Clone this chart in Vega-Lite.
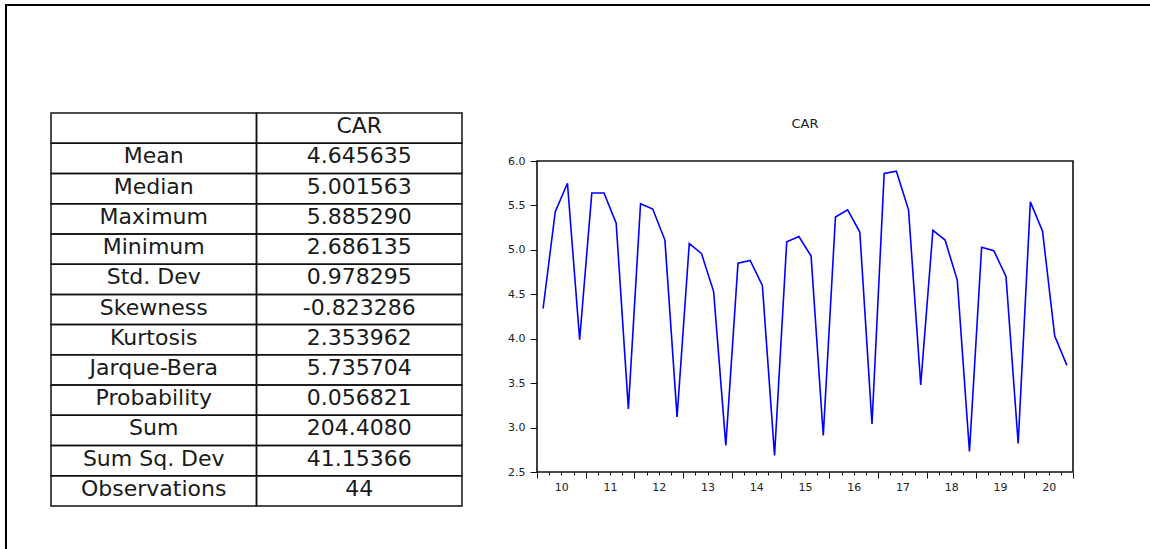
{
  "$schema": "https://vega.github.io/schema/vega-lite/v6.json",
  "background": "white",
  "padding": {"left": 5, "top": 4, "right": 0, "bottom": 0},
  "config": {"view": {"stroke": null}, "font": "DejaVu Sans"},
  "spacing": 0,
  "vconcat": [
    {
      "width": 1145, "height": 2,
      "view": {"fill": "black", "stroke": null},
      "data": {"values": []},
      "mark": "point"
    },
    {
      "spacing": 43,
      "hconcat": [
        {
          "width": 2, "height": 543,
          "view": {"fill": "black", "stroke": null},
          "data": {"values": []},
          "mark": "point"
        },
        {
          "spacing": 105,
          "vconcat": [
            {"width": 1, "height": 1, "view": {"stroke": null}, "data": {"values": []}, "mark": "point"},
            {
              "width": 411, "height": 393,
              "data": {"values": [
                {"row": 0, "stat": "", "value": "CAR"},
                {"row": 1, "stat": "Mean", "value": "4.645635"},
                {"row": 2, "stat": "Median", "value": "5.001563"},
                {"row": 3, "stat": "Maximum", "value": "5.885290"},
                {"row": 4, "stat": "Minimum", "value": "2.686135"},
                {"row": 5, "stat": "Std. Dev", "value": "0.978295"},
                {"row": 6, "stat": "Skewness", "value": "-0.823286"},
                {"row": 7, "stat": "Kurtosis", "value": "2.353962"},
                {"row": 8, "stat": "Jarque-Bera", "value": "5.735704"},
                {"row": 9, "stat": "Probability", "value": "0.056821"},
                {"row": 10, "stat": "Sum", "value": "204.4080"},
                {"row": 11, "stat": "Sum Sq. Dev", "value": "41.15366"},
                {"row": 12, "stat": "Observations", "value": "44"}
              ]},
              "encoding": {
                "y": {"field": "row", "type": "ordinal", "scale": {"paddingInner": 0, "paddingOuter": 0}, "axis": null}
              },
              "layer": [
                {
                  "mark": {"type": "rect", "fillOpacity": 0, "stroke": "#111", "strokeWidth": 1.5},
                  "encoding": {"x": {"datum": "c1", "type": "nominal", "scale": {"domain": ["c1", "c2"], "paddingInner": 0, "paddingOuter": 0}, "axis": null}}
                },
                {
                  "mark": {"type": "rect", "fillOpacity": 0, "stroke": "#111", "strokeWidth": 1.5},
                  "encoding": {"x": {"datum": "c2", "type": "nominal", "axis": null}}
                },
                {
                  "mark": {"type": "text", "font": "DejaVu Sans", "fontSize": 22, "color": "#1a1a1a", "baseline": "alphabetic", "dy": 5},
                  "encoding": {"x": {"datum": "c1", "type": "nominal", "axis": null}, "text": {"field": "stat"}}
                },
                {
                  "mark": {"type": "text", "font": "DejaVu Sans", "fontSize": 22, "color": "#1a1a1a", "baseline": "alphabetic", "dy": 5},
                  "encoding": {"x": {"datum": "c2", "type": "nominal", "axis": null}, "text": {"field": "value"}}
                }
              ]
            }
          ]
        },
        {
          "spacing": 110,
          "vconcat": [
            {"width": 1, "height": 1, "view": {"stroke": null}, "data": {"values": []}, "mark": "point"},
            {
              "width": 536, "height": 311,
              "view": {"stroke": "#111", "strokeWidth": 1.6},
              "title": {"text": "CAR", "font": "DejaVu Sans", "fontSize": 13, "fontWeight": "normal", "color": "#222", "offset": 24, "anchor": "middle"},
              "data": {"values": [
                {"period": "2010Q1", "t": 2010.125, "car": 4.34},
                {"period": "2010Q2", "t": 2010.375, "car": 5.43},
                {"period": "2010Q3", "t": 2010.625, "car": 5.75},
                {"period": "2010Q4", "t": 2010.875, "car": 3.99},
                {"period": "2011Q1", "t": 2011.125, "car": 5.64},
                {"period": "2011Q2", "t": 2011.375, "car": 5.64},
                {"period": "2011Q3", "t": 2011.625, "car": 5.30},
                {"period": "2011Q4", "t": 2011.875, "car": 3.21},
                {"period": "2012Q1", "t": 2012.125, "car": 5.52},
                {"period": "2012Q2", "t": 2012.375, "car": 5.46},
                {"period": "2012Q3", "t": 2012.625, "car": 5.11},
                {"period": "2012Q4", "t": 2012.875, "car": 3.12},
                {"period": "2013Q1", "t": 2013.125, "car": 5.07},
                {"period": "2013Q2", "t": 2013.375, "car": 4.96},
                {"period": "2013Q3", "t": 2013.625, "car": 4.53},
                {"period": "2013Q4", "t": 2013.875, "car": 2.80},
                {"period": "2014Q1", "t": 2014.125, "car": 4.85},
                {"period": "2014Q2", "t": 2014.375, "car": 4.88},
                {"period": "2014Q3", "t": 2014.625, "car": 4.60},
                {"period": "2014Q4", "t": 2014.875, "car": 2.686},
                {"period": "2015Q1", "t": 2015.125, "car": 5.09},
                {"period": "2015Q2", "t": 2015.375, "car": 5.15},
                {"period": "2015Q3", "t": 2015.625, "car": 4.93},
                {"period": "2015Q4", "t": 2015.875, "car": 2.91},
                {"period": "2016Q1", "t": 2016.125, "car": 5.37},
                {"period": "2016Q2", "t": 2016.375, "car": 5.45},
                {"period": "2016Q3", "t": 2016.625, "car": 5.20},
                {"period": "2016Q4", "t": 2016.875, "car": 3.04},
                {"period": "2017Q1", "t": 2017.125, "car": 5.86},
                {"period": "2017Q2", "t": 2017.375, "car": 5.885},
                {"period": "2017Q3", "t": 2017.625, "car": 5.45},
                {"period": "2017Q4", "t": 2017.875, "car": 3.48},
                {"period": "2018Q1", "t": 2018.125, "car": 5.22},
                {"period": "2018Q2", "t": 2018.375, "car": 5.11},
                {"period": "2018Q3", "t": 2018.625, "car": 4.66},
                {"period": "2018Q4", "t": 2018.875, "car": 2.73},
                {"period": "2019Q1", "t": 2019.125, "car": 5.03},
                {"period": "2019Q2", "t": 2019.375, "car": 4.99},
                {"period": "2019Q3", "t": 2019.625, "car": 4.70},
                {"period": "2019Q4", "t": 2019.875, "car": 2.82},
                {"period": "2020Q1", "t": 2020.125, "car": 5.54},
                {"period": "2020Q2", "t": 2020.375, "car": 5.21},
                {"period": "2020Q3", "t": 2020.625, "car": 4.03},
                {"period": "2020Q4", "t": 2020.875, "car": 3.70}
              ]},
              "mark": {"type": "line", "color": "#0000FF", "strokeWidth": 1.6},
              "encoding": {
                "x": {
                  "field": "t", "type": "quantitative",
                  "scale": {"domain": [2010, 2021], "nice": false, "zero": false},
                  "axis": {
                    "title": null, "grid": false, "domain": false,
                    "values": [2010, 2010.25, 2010.5, 2010.75, 2011, 2011.25, 2011.5, 2011.75, 2012, 2012.25, 2012.5, 2012.75, 2013, 2013.25, 2013.5, 2013.75, 2014, 2014.25, 2014.5, 2014.75, 2015, 2015.25, 2015.5, 2015.75, 2016, 2016.25, 2016.5, 2016.75, 2017, 2017.25, 2017.5, 2017.75, 2018, 2018.25, 2018.5, 2018.75, 2019, 2019.25, 2019.5, 2019.75, 2020, 2020.25, 2020.5, 2020.75, 2021],
                    "labelExpr": "(datum.value * 4) % 4 == 2 ? format(floor(datum.value) % 100, 'd') : ''",
                    "tickSize": {"condition": {"test": "datum.value % 1 == 0", "value": 6}, "value": 3},
                    "tickColor": "#111", "tickWidth": 1,
                    "labelOverlap": false, "labelFlush": false,
                    "labelFont": "DejaVu Sans", "labelFontSize": 11, "labelColor": "#222", "labelPadding": 6
                  }
                },
                "y": {
                  "field": "car", "type": "quantitative",
                  "scale": {"domain": [2.5, 6.0], "nice": false, "zero": false},
                  "axis": {
                    "title": null, "grid": false, "domain": false,
                    "values": [2.5, 3.0, 3.5, 4.0, 4.5, 5.0, 5.5, 6.0],
                    "format": ".1f", "tickSize": 7, "tickColor": "#111", "tickWidth": 1,
                    "labelFont": "DejaVu Sans", "labelFontSize": 11, "labelColor": "#222", "labelPadding": 5
                  }
                }
              }
            }
          ]
        }
      ]
    }
  ]
}
